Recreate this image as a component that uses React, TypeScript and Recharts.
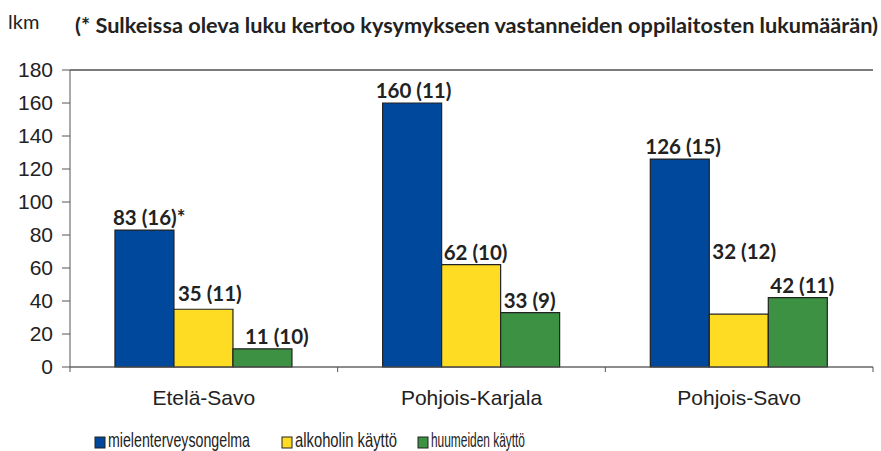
import React from 'react';
import { BarChart, Bar, XAxis, YAxis, CartesianGrid, LabelList, ReferenceLine } from 'recharts';

const categories = ['Etelä-Savo', 'Pohjois-Karjala', 'Pohjois-Savo'];
const mielenterveys = [83, 160, 126];
const alkoholi = [35, 62, 32];
const huumeet = [11, 33, 42];
const mielenLabels = ['83 (16)*', '160 (11)', '126 (15)'];
const alkoLabels = ['35 (11)', '62 (10)', '32 (12)'];
const huumeLabels = ['11 (10)', '33 (9)', '42 (11)'];
const yTicks = [0, 20, 40, 60, 80, 100, 120, 140, 160, 180];
const seriesNames = ['mielenterveysongelma', 'alkoholin käyttö', 'huumeiden käyttö'];
const title = '(* Sulkeissa oleva luku kertoo kysymykseen vastanneiden oppilaitosten lukumäärän)';
const unitLabel = 'lkm';

const COLORS = ['#00489C', '#FFDC24', '#3C9142'];
const W = 881;
const H = 451;
const M = { top: 70, right: 8, left: 0, bottom: 54 };
const Y_W = 70;
const BAND = (W - M.left - M.right - Y_W) / categories.length;
// label placement tweaks (px), keyed series -> index
const LABEL_LIFT: Record<string, number[]> = { a: [3, 0, 50], m: [0, 0, 0], h: [0, 0, 0] };
const LABEL_SHIFT: Record<string, number[]> = { a: [4, 2, 3], m: [-2, -7, -5], h: [12, 3, 2] };

const data = categories.map((c, i) => ({
  name: c,
  m: mielenterveys[i],
  a: alkoholi[i],
  h: huumeet[i],
  mL: mielenLabels[i],
  aL: alkoLabels[i],
  hL: huumeLabels[i],
}));

const makeLabel = (key: string) => (props: any) => {
  const { x, y, value, index } = props;
  const lift = LABEL_LIFT[key][index] || 0;
  const shift = LABEL_SHIFT[key][index] || 0;
  return (
    <text
      x={Number(x) + shift}
      y={Number(y) - 5 - lift}
      textAnchor="start"
      fontFamily="Lato, 'Open Sans', sans-serif"
      fontWeight={700}
      fontSize={20.5}
      fill="#222"
    >
      {value}
    </text>
  );
};

const CatTick = (props: any) => {
  const { x, y, payload, index } = props;
  return (
    <g>
      <line x1={x - BAND / 2} x2={x - BAND / 2} y1={y} y2={y + 5} stroke="#555" />
      {index === categories.length - 1 && (
        <line x1={x + BAND / 2} x2={x + BAND / 2} y1={y} y2={y + 5} stroke="#555" />
      )}
      <text x={x} y={y + 38} textAnchor="middle" fontFamily="'Liberation Sans', Arial, sans-serif" fontSize={21} fill="#222">
        {payload.value}
      </text>
    </g>
  );
};

const legendPos = [
  { sq: 95, tx: 108, w: 142 },
  { sq: 282, tx: 295, w: 102 },
  { sq: 418, tx: 431, w: 94 },
];

export default function App() {
  return (
    <div style={{ position: 'absolute', left: 0, top: 0, width: W, height: H, background: '#fff', overflow: 'hidden' }}>
      <BarChart width={W} height={H} data={data} margin={M} barCategoryGap="16.8%" barGap={0}>
        <CartesianGrid horizontal vertical={false} stroke="#8a8a8a" />
        <ReferenceLine yAxisId="l" y={180} stroke="#333" />
        <XAxis
          dataKey="name"
          height={30}
          tickLine={false}
          tickSize={0}
          tickMargin={0}
          axisLine={{ stroke: '#555' }}
          tick={<CatTick />}
          interval={0}
        />
        <YAxis
          yAxisId="l"
          width={Y_W}
          domain={[0, 180]}
          ticks={yTicks}
          interval={0}
          tickSize={8}
          tickMargin={9}
          axisLine={{ stroke: '#555' }}
          tickLine={{ stroke: '#555' }}
          tick={{ fontFamily: "'Liberation Sans', Arial, sans-serif", fontSize: 21, fill: '#222' }}
        />
        <YAxis yAxisId="r" orientation="right" width={0} tick={false} tickLine={false} axisLine={{ stroke: '#8a8a8a' }} domain={[0, 180]} />
        <Bar yAxisId="l" dataKey="m" name={seriesNames[0]} fill={COLORS[0]} stroke="#222" strokeWidth={1.2} isAnimationActive={false}>
          <LabelList dataKey="mL" content={makeLabel('m')} />
        </Bar>
        <Bar yAxisId="l" dataKey="a" name={seriesNames[1]} fill={COLORS[1]} stroke="#222" strokeWidth={1.2} isAnimationActive={false}>
          <LabelList dataKey="aL" content={makeLabel('a')} />
        </Bar>
        <Bar yAxisId="l" dataKey="h" name={seriesNames[2]} fill={COLORS[2]} stroke="#222" strokeWidth={1.2} isAnimationActive={false}>
          <LabelList dataKey="hL" content={makeLabel('h')} />
        </Bar>
      </BarChart>
      <svg width={W} height={H} style={{ position: 'absolute', left: 0, top: 0, pointerEvents: 'none' }}>
        <text x={8} y={29} fontFamily="Lato, sans-serif" fontSize={20} fill="#222">
          {unitLabel}
        </text>
        <text
          x={75}
          y={33}
          fontFamily="Lato, sans-serif"
          fontWeight={700}
          fontSize={20.5}
          fill="#222"
          textLength={803}
          lengthAdjust="spacingAndGlyphs"
        >
          {title}
        </text>
        {seriesNames.map((n, i) => (
          <g key={n}>
            <rect x={legendPos[i].sq} y={437} width={10} height={11} fill={COLORS[i]} stroke="#222" strokeWidth={1} />
            <text
              x={legendPos[i].tx}
              y={447}
              fontFamily="'Liberation Sans', Arial, sans-serif"
              fontSize={21}
              fill="#222"
              textLength={legendPos[i].w}
              lengthAdjust="spacingAndGlyphs"
            >
              {n}
            </text>
          </g>
        ))}
      </svg>
    </div>
  );
}
